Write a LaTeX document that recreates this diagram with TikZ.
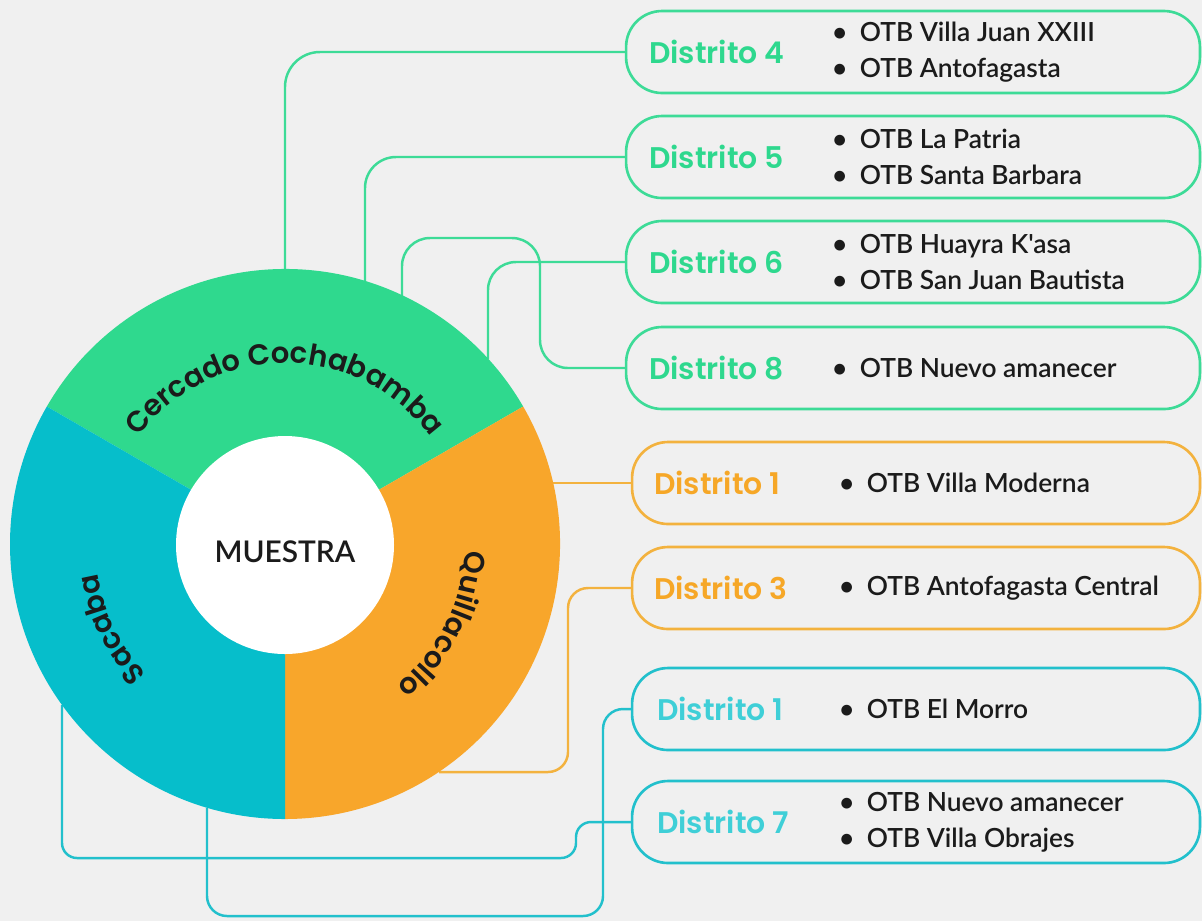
\documentclass[tikz,border=0pt]{standalone}
\usepackage{fontspec}
\usepackage{tikz}
\usetikzlibrary{positioning}
\usetikzlibrary{calc}
\usetikzlibrary{decorations.text}
\newfontfamily\curvefont{Poppins SemiBold}
\newfontfamily\listfont{Lato Semibold}
\definecolor{fondo}{HTML}{F0F0F0}
\definecolor{verde}{HTML}{2FD98E}
\definecolor{naranja}{HTML}{F8A62B}
\definecolor{celeste}{HTML}{06BECB}
\definecolor{lineaverde}{HTML}{3DDB97}
\definecolor{lineanaranja}{HTML}{F3B23E}
\definecolor{lineaceleste}{HTML}{22C0CC}
\definecolor{textoverde}{HTML}{2ED88E}
\definecolor{textonaranja}{HTML}{F6A727}
\definecolor{textoceleste}{HTML}{3FCFD7}
\definecolor{tinta}{HTML}{1B1B1B}
\newcommand{\otb}[1]{\makebox[15.8pt][l]{\textbullet}#1}
\newcommand{\curvestyle}{\curvefont\fontsize{16.5}{16.5}\selectfont}
\tikzset{
	distrito/.style={draw=#1,line width=1.5pt,rounded corners=0.72cm,minimum height=1.64cm,inner sep=0pt},
	titulo/.style={text=#1,font=\curvefont\fontsize{17}{17}\selectfont,anchor=west,inner sep=0pt},
	lista/.style={font=\listfont\fontsize{15}{20.5}\selectfont,text=tinta,align=left,anchor=west,inner sep=0pt},
	conector/.style={draw=#1,line width=1.4pt},
	rotulo/.style={decorate,decoration={text along path,text align=center,text color=tinta,text={|\curvestyle|#1}}}
}
\begin{document}
\begin{tikzpicture}[x=0.02cm,y=0.02cm]
	\useasboundingbox (0.,0.) rectangle (1202.,-921.);
	\fill[fondo] (0.,0.) rectangle (1202.,-921.);
	\coordinate (centro) at (285.,-544.);
	\node[distrito=lineaverde,minimum width=11.48cm] (d4) at (913.,-52.) {};
	\node[distrito=lineaverde,minimum width=11.48cm] (d5) at (913.,-157.) {};
	\node[distrito=lineaverde,minimum width=11.48cm] (d6) at (913.,-262.) {};
	\node[distrito=lineaverde,minimum width=11.48cm] (d8) at (913.,-368.) {};
	\node[distrito=lineanaranja,minimum width=11.36cm] (o1) at (916.,-483.) {};
	\node[distrito=lineanaranja,minimum width=11.36cm] (o3) at (916.,-588.) {};
	\node[distrito=lineaceleste,minimum width=11.36cm] (t1) at (916.,-709.) {};
	\node[distrito=lineaceleste,minimum width=11.36cm] (t7) at (916.,-822.) {};
	\node[titulo=textoverde,right=0.48cm of d4.west] (n4) {Distrito 4};
	\node[titulo=textoverde,right=0.48cm of d5.west] (n5) {Distrito 5};
	\node[titulo=textoverde,right=0.48cm of d6.west] (n6) {Distrito 6};
	\node[titulo=textoverde,right=0.48cm of d8.west] (n8) {Distrito 8};
	\node[titulo=textonaranja,right=0.46cm of o1.west] (m1) {Distrito 1};
	\node[titulo=textonaranja,right=0.46cm of o3.west] (m3) {Distrito 3};
	\node[titulo=textoceleste,right=0.52cm of t1.west] (s1) {Distrito 1};
	\node[titulo=textoceleste,right=0.52cm of t7.west] (s7) {Distrito 7};
	\node[lista,right=4.14cm of d4.west] (l4) {\otb{OTB Villa Juan XXIII}\\\otb{OTB Antofagasta}};
	\node[lista,right=4.14cm of d5.west] (l5) {\otb{OTB La Patria}\\\otb{OTB Santa Barbara}};
	\node[lista,right=4.14cm of d6.west] (l6) {\otb{OTB Huayra K'asa}\\\otb{OTB San Juan Bautista}};
	\node[lista,right=4.14cm of d8.west] (l8) {\otb{OTB Nuevo amanecer}};
	\node[lista,right=4.16cm of o1.west] (k1) {\otb{OTB Villa Moderna}};
	\node[lista,right=4.16cm of o3.west] (k3) {\otb{OTB Antofagasta Central}};
	\node[lista,right=4.16cm of t1.west] (r1) {\otb{OTB El Morro}};
	\node[lista,right=4.16cm of t7.west] (r7) {\otb{OTB Nuevo amanecer}\\\otb{OTB Villa Obrajes}};
	\coordinate (c4) at (285.,-269.);
	\coordinate (c5) at (365.,-281.);
	\coordinate (c6) at (488.,-359.);
	\coordinate (q8) at (540.,-238.);
	\coordinate (c8) at (402.,-296.);
	\coordinate (a1) at (553.,-483.);
	\coordinate (q3) at (568.,-772.);
	\coordinate (a3) at (439.,-772.);
	\coordinate (q1) at (603.,-916.);
	\coordinate (b1) at (207.,-808.);
	\coordinate (q7) at (576.,-858.);
	\coordinate (b7) at (62.,-705.);
	\draw[conector=lineaverde,rounded corners=0.7cm] (d4.west) -| (c4);
	\draw[conector=lineaverde,rounded corners=0.62cm] (d5.west) -| (c5);
	\draw[conector=lineaverde,rounded corners=0.56cm] (d6.west) -| (c6);
	\draw[conector=lineaverde,rounded corners=0.56cm] (d8.west) -| (q8) -| (c8);
	\draw[conector=lineanaranja] (o1.west) -- (a1);
	\draw[conector=lineanaranja,rounded corners=0.4cm] (o3.west) -| (q3) -- (a3);
	\draw[conector=lineaceleste,rounded corners=0.4cm] (t1.west) -| (q1) -| (b1);
	\draw[conector=lineaceleste,rounded corners=0.3cm] (t7.west) -| (q7) -| (b7);
	\fill[verde] (centro) -- ($(centro)+(150:275)$) arc (150:30:275) -- cycle;
	\fill[naranja] (centro) -- ($(centro)+(30:275)$) arc (30:-90:275) -- cycle;
	\fill[celeste] (centro) -- ($(centro)+(270:275)$) arc (270:150:275) -- cycle;
	\fill[white] (285.,-545.) circle (109.);
	\node[font=\listfont\fontsize{17}{17}\selectfont,text=tinta] (muestra) at (285.,-552.) {MUESTRA};
	\path[rotulo=Cercado Cochabamba] ($(centro)+(160:181)$) arc (160:20:181);
	\path[rotulo=Quillacollo] ($(centro)+(23:180)$) arc (23:-77:180);
	\path[rotulo=Sacaba] ($(centro)+(256:190)$) arc (256:156:190);
\end{tikzpicture}
\end{document}
